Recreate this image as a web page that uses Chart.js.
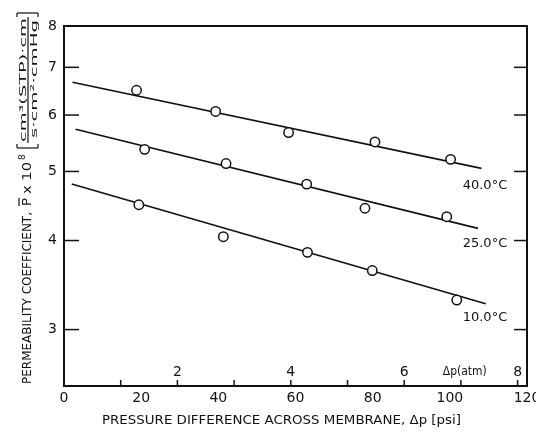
<!DOCTYPE html>
<html>
<head>
<meta charset="utf-8">
<script src="https://cdn.jsdelivr.net/npm/chart.js@4.4.1/dist/chart.umd.min.js"></script>
<style>
  html, body { margin: 0; padding: 0; background: #fff; }
  canvas { display: block; }
</style>
</head>
<body>
<canvas id="chart" width="536" height="437"></canvas>
<script>
// measured points: pressure difference (psi) and permeability (x 1e8)
const psi40 = [18.8, 39.3, 58.2, 80.6, 100.2];
const perm40 = [6.50, 6.07, 5.67, 5.50, 5.20];
const psi25 = [20.9, 42.0, 62.9, 78.0, 99.2];
const perm25 = [5.37, 5.13, 4.80, 4.44, 4.32];
const psi10 = [19.4, 41.3, 63.1, 79.9, 101.8];
const perm10 = [4.49, 4.05, 3.85, 3.63, 3.30];

// fitted lines, start and end
const fitPsi40 = [2.2, 108.2];
const fitPerm40 = [6.67, 5.05];
const fitPsi25 = [3.0, 107.3];
const fitPerm25 = [5.73, 4.16];
const fitPsi10 = [2.0, 109.3];
const fitPerm10 = [4.80, 3.26];

// axes
const xTicks = [0, 20, 40, 60, 80, 100, 120];
const yTicks = [3, 4, 5, 6, 7, 8];
const atmTicks = [1, 2, 3, 4, 5, 6, 7, 8];
const atmLabels = [2, 4, 6, 8];
const PSI_PER_ATM = 14.696;

// curve labels
const tempNames = ['40.0°C', '25.0°C', '10.0°C'];
const tempPsi = [109.1, 109.1, 109.1];
const tempPerm = [4.77, 3.96, 3.12];

const INK = '#111';
const FONT = '"DejaVu Sans"';

function pts(xs, ys) {
  return xs.map((v, i) => ({ x: v, y: ys[i] }));
}

function fitText(ctx, text, x, y, w) {
  const m = ctx.measureText(text).width;
  ctx.save();
  ctx.translate(x, y);
  ctx.scale(w / m, 1);
  ctx.fillText(text, 0, 0);
  ctx.restore();
}

function seg(ctx, x1, y1, x2, y2) {
  ctx.beginPath();
  ctx.moveTo(x1, y1);
  ctx.lineTo(x2, y2);
  ctx.stroke();
}

function drawYTitle(ctx) {
  ctx.save();
  ctx.translate(31, 384);
  ctx.rotate(-Math.PI / 2);
  ctx.textAlign = 'left';
  ctx.textBaseline = 'alphabetic';
  ctx.font = '13px ' + FONT;
  fitText(ctx, 'PERMEABILITY COEFFICIENT,', 0, 0, 172);
  fitText(ctx, 'P', 178, 0, 8);
  ctx.lineWidth = 1.2;
  seg(ctx, 178, -12, 186, -12);
  fitText(ctx, 'x 10', 190, 0, 32);
  ctx.font = '9px ' + FONT;
  ctx.fillText('8', 224, -6);
  // brackets
  seg(ctx, 236, -14, 236, 7);
  seg(ctx, 236, -14, 240, -14);
  seg(ctx, 236, 7, 240, 7);
  seg(ctx, 371, -14, 371, 7);
  seg(ctx, 371, -14, 367, -14);
  seg(ctx, 371, 7, 367, 7);
  // fraction
  ctx.font = '9px ' + FONT;
  fitText(ctx, 'cm³(STP)·cm', 242, -5, 124);
  seg(ctx, 241, -3, 367, -3);
  fitText(ctx, 's·cm²·cmHg', 246, 5.5, 118);
  ctx.restore();
}

const decor = {
  id: 'decor',
  afterDraw(chart) {
    const { ctx, chartArea: a, scales: { x, y } } = chart;
    ctx.save();
    ctx.strokeStyle = INK;
    ctx.fillStyle = INK;
    ctx.lineWidth = 2;
    ctx.strokeRect(a.left, a.top, a.right - a.left, a.bottom - a.top);

    // inward ticks on both sides
    ctx.lineWidth = 1.5;
    yTicks.forEach(v => {
      const py = y.getPixelForValue(v);
      seg(ctx, a.left, py, a.left + 15, py);
      seg(ctx, a.right, py, a.right - 13, py);
    });

    // atm scale inside the bottom axis
    atmTicks.forEach(t => {
      const px = x.getPixelForValue(t * PSI_PER_ATM);
      seg(ctx, px, a.bottom, px, a.bottom - 6);
    });
    ctx.font = '14px ' + FONT;
    ctx.textAlign = 'center';
    ctx.textBaseline = 'middle';
    atmLabels.forEach(t => {
      ctx.fillText(String(t), x.getPixelForValue(t * PSI_PER_ATM), a.bottom - 14);
    });
    ctx.textAlign = 'left';
    ctx.font = '13px ' + FONT;
    fitText(ctx, 'Δp(atm)', x.getPixelForValue(6.68 * PSI_PER_ATM), a.bottom - 14, 44);

    // temperature labels
    ctx.textAlign = 'center';
    ctx.font = '13px ' + FONT;
    tempNames.forEach((n, i) => {
      ctx.fillText(n, x.getPixelForValue(tempPsi[i]), y.getPixelForValue(tempPerm[i]));
    });

    // x title
    ctx.textAlign = 'left';
    ctx.textBaseline = 'alphabetic';
    ctx.font = '13px ' + FONT;
    fitText(ctx, 'PRESSURE DIFFERENCE ACROSS MEMBRANE, Δp [psi]', 102, 424, 359);

    drawYTitle(ctx);
    ctx.restore();
  }
};

const pointStyle = {
  showLine: false,
  pointRadius: 4.7,
  pointBorderWidth: 1.5,
  pointBackgroundColor: '#fff',
  pointBorderColor: INK,
  order: 0
};
const lineStyle = {
  showLine: true,
  pointRadius: 0,
  borderColor: INK,
  borderWidth: 1.6,
  order: 1
};

const ctx = document.getElementById('chart').getContext('2d');
new Chart(ctx, {
  type: 'scatter',
  data: {
    datasets: [
      { label: '40.0°C', data: pts(psi40, perm40), ...pointStyle },
      { label: '25.0°C', data: pts(psi25, perm25), ...pointStyle },
      { label: '10.0°C', data: pts(psi10, perm10), ...pointStyle },
      { label: 'fit 40', data: pts(fitPsi40, fitPerm40), ...lineStyle },
      { label: 'fit 25', data: pts(fitPsi25, fitPerm25), ...lineStyle },
      { label: 'fit 10', data: pts(fitPsi10, fitPerm10), ...lineStyle }
    ]
  },
  options: {
    responsive: false,
    animation: false,
    layout: { padding: { top: 26, right: 9, left: 0, bottom: 0 } },
    plugins: {
      legend: { display: false },
      tooltip: { enabled: false }
    },
    scales: {
      x: {
        type: 'linear',
        min: 0,
        max: 120,
        afterBuildTicks: s => { s.ticks = xTicks.map(v => ({ value: v })); },
        ticks: { padding: 4, color: INK, maxRotation: 0, font: { family: 'DejaVu Sans', size: 14 } },
        grid: { display: false, drawTicks: false },
        border: { display: false },
        afterFit: s => { s.height = 51; s.paddingLeft = 0; s.paddingRight = 0; }
      },
      y: {
        type: 'logarithmic',
        min: 2.5,
        max: 8,
        afterBuildTicks: s => { s.ticks = yTicks.map(v => ({ value: v })); },
        ticks: { padding: 7, color: INK, callback: v => String(v), font: { family: 'DejaVu Sans', size: 14 } },
        grid: { display: false, drawTicks: false },
        border: { display: false },
        afterFit: s => { s.width = 64; s.paddingTop = 0; s.paddingBottom = 0; }
      }
    }
  },
  plugins: [decor]
});
</script>
</body>
</html>
